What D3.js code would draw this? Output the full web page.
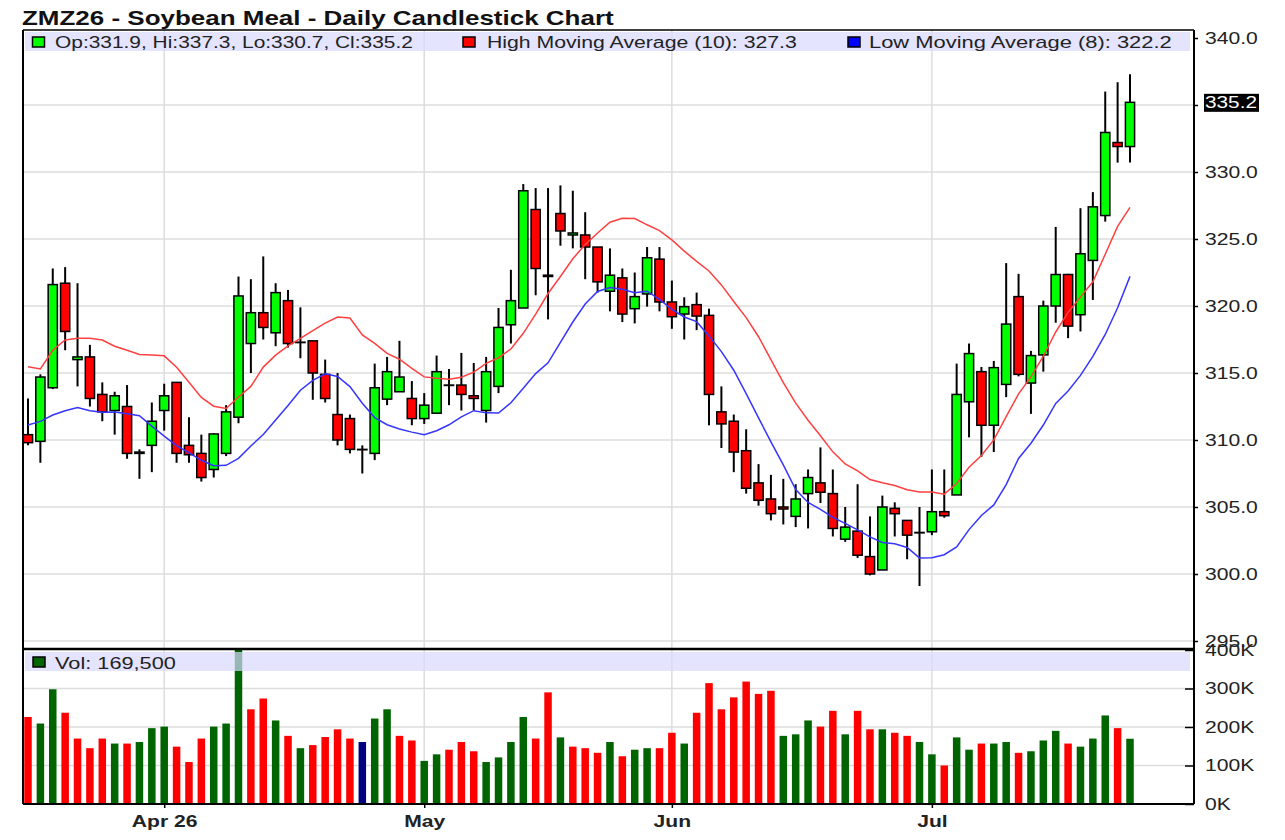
<!DOCTYPE html>
<html>
<head>
<meta charset="utf-8">
<script src="https://cdn.jsdelivr.net/npm/d3@7"></script>
<style>
  body { margin: 0; background: #fff; }
  text { font-family: "Liberation Sans", Arial, sans-serif; }
</style>
</head>
<body>
<svg id="chart" width="1285" height="840"></svg>
<script>
// Daily sessions, oldest first
const opens = [310.4, 309.9, 313.9, 321.7, 316.0, 316.2, 313.4, 312.2, 312.5, 309.0,
  309.6, 312.2, 314.3, 309.6, 309.0, 307.8, 309.0, 311.7, 317.2, 319.5,
  318.0, 320.4, 317.3, 317.4, 314.9, 311.9, 311.6, 309.3, 309.0, 313.05,
  313.6, 313.1, 311.6, 312.0, 314.1, 314.1, 313.3, 312.2, 314.0, 318.6,
  319.85, 327.2, 322.3, 326.9, 325.3, 325.3, 324.4, 321.1, 322.1, 319.8,
  320.9, 323.5, 320.3, 319.4, 320.1, 319.3, 312.1, 311.4, 309.2, 306.8,
  305.6, 305.0, 304.3, 306.0, 306.8, 306.0, 302.6, 303.2, 301.3, 300.3,
  304.9, 304.0, 303.1, 303.15, 304.65, 305.9, 312.85, 315.1, 311.1, 314.15,
  320.7, 314.25, 316.35, 320.0, 322.35, 319.35, 323.4, 326.75, 332.2, 331.9];
const highs = [313.1, 314.9, 322.8, 322.9, 321.7, 317.1, 314.3, 313.6, 314.1, 309.3,
  312.8, 314.2, 314.3, 311.7, 310.4, 310.5, 312.6, 322.2, 322.0, 323.7,
  321.7, 321.2, 319.9, 317.4, 316.0, 315.0, 311.9, 309.6, 315.7, 316.2,
  317.4, 314.4, 313.5, 316.3, 315.3, 316.5, 315.75, 316.2, 319.85, 322.7,
  329.1, 328.8, 328.8, 329.0, 328.6, 327.0, 324.4, 324.3, 322.8, 322.5,
  324.4, 324.4, 321.9, 320.65, 321.0, 319.8, 314.0, 311.9, 310.8, 308.2,
  307.4, 307.1, 306.7, 307.8, 309.45, 307.8, 305.0, 306.7, 304.3, 305.85,
  305.35, 304.0, 305.0, 307.8, 307.8, 315.7, 317.2, 315.45, 315.9, 323.2,
  322.4, 316.65, 320.4, 325.9, 322.4, 327.3, 328.5, 336.0, 336.7, 337.3];
const lows = [309.6, 308.3, 313.8, 316.7, 314.0, 312.5, 311.4, 310.4, 308.6, 307.1,
  307.6, 310.7, 308.3, 308.3, 306.9, 307.2, 308.8, 311.25, 315.0, 317.5,
  317.0, 316.9, 316.1, 313.0, 312.8, 309.6, 309.0, 307.5, 308.5, 312.6,
  313.6, 311.1, 311.2, 312.0, 312.6, 312.2, 312.2, 311.3, 313.5, 317.2,
  319.85, 320.8, 319.0, 324.5, 324.3, 322.0, 321.0, 319.6, 318.8, 318.7,
  319.95, 319.6, 318.3, 317.5, 318.2, 311.1, 309.4, 307.6, 306.0, 305.1,
  304.0, 303.7, 303.5, 303.4, 305.3, 302.8, 302.4, 301.2, 299.9, 300.3,
  302.8, 301.1, 299.1, 302.9, 304.2, 305.9, 310.2, 308.75, 309.1, 313.2,
  314.75, 311.95, 315.1, 318.75, 317.6, 318.1, 320.45, 326.3, 330.7, 330.7];
const closes = [309.8, 314.7, 321.6, 318.1, 316.2, 313.1, 312.1, 313.3, 309.0, 309.1,
  311.4, 313.3, 309.0, 308.9, 307.2, 310.45, 312.1, 320.75, 319.5, 318.4,
  321.0, 317.2, 317.3, 315.0, 313.1, 310.0, 309.3, 309.3, 313.9, 315.1,
  314.7, 311.6, 312.6, 315.1, 314.1, 313.4, 313.1, 315.1, 318.4, 320.4,
  328.6, 322.8, 322.2, 325.6, 325.45, 324.4, 321.8, 322.3, 319.4, 320.7,
  323.6, 320.3, 319.2, 319.95, 319.25, 313.4, 311.2, 309.1, 306.4, 305.5,
  304.5, 304.85, 305.6, 307.2, 306.1, 303.4, 303.5, 301.4, 300.0, 305.0,
  304.5, 302.9, 303.1, 304.65, 304.35, 313.4, 316.45, 311.1, 315.4, 318.65,
  314.9, 316.3, 320.0, 322.35, 318.5, 323.9, 327.4, 332.95, 331.9, 335.2];
const volumes = [226000, 209000, 298000, 237000, 170000, 145000, 170000, 157000, 157000, 161000,
  197000, 201000, 149000, 109000, 170000, 201000, 209000, 420000, 246000, 274000,
  217000, 177000, 145000, 153000, 174000, 194000, 170000, 161000, 222000, 246000,
  177000, 165000, 112000, 129000, 141000, 161000, 137000, 109000, 121000, 161000,
  226000, 170000, 290000, 173000, 149000, 145000, 133000, 161000, 124000, 141000,
  145000, 145000, 185000, 157000, 237000, 314000, 246000, 277000, 318000, 286000,
  294000, 177000, 181000, 217000, 201000, 242000, 181000, 242000, 194000, 194000,
  185000, 177000, 161000, 129000, 100000, 173000, 141000, 157000, 157000, 161000,
  133000, 137000, 165000, 190000, 157000, 149000, 170000, 230000, 197000, 169500];

// sessions just before the window, estimated so the averages start where the picture does
const leadHighs = [316.6, 308.8, 315.3, 320.3, 317.1, 315.7, 318.2, 317.1, 312.5];
const leadLows = [306.1, 310.0, 314.1, 312.1, 314.4, 312.4, 310.2];
const priorClose = 310.9;

const monthTicks = [11, 32, 52, 73];
const monthLabels = ["Apr 26", "May", "Jun", "Jul"];
const priceTicks = [295, 300, 305, 310, 315, 320, 325, 330, 335, 340];
const volumeTicks = [0, 100000, 200000, 300000, 400000];

const chartTitle = "ZMZ26 - Soybean Meal - Daily Candlestick Chart";
const ohlcLabel = "Op:331.9, Hi:337.3, Lo:330.7, Cl:335.2";
const highAvgLabel = "High Moving Average (10): 327.3";
const lowAvgLabel = "Low Moving Average (8): 322.2";
const volLabel = "Vol: 169,500";
const lastPrice = 335.2;

const svg = d3.select("#chart");
const left = 23, right = 1194, priceTop = 30, priceBottom = 649, volTop = 650, volBottom = 804;
const n = closes.length;
const sx = 1.32; // the source picture is stretched sideways

const x = d3.scaleLinear().domain([0, n - 1]).range([28, 1130]);
const y = d3.scaleLinear().domain([295, 340]).range([641, 38]);
const yVol = d3.scaleLinear().domain([0, 400000]).range([volBottom, volTop]);

// moving averages of highs (10) and lows (8)
const allHighs = leadHighs.concat(highs);
const allLows = leadLows.concat(lows);
const highAvg = d3.range(n).map(i => d3.mean(allHighs.slice(i, i + leadHighs.length + 1)));
const lowAvg = d3.range(n).map(i => d3.mean(allLows.slice(i, i + leadLows.length + 1)));

const defs = svg.append("defs");
defs.append("clipPath").attr("id", "clipPrice")
  .append("rect").attr("x", left).attr("y", priceTop).attr("width", right - left).attr("height", priceBottom - priceTop);
defs.append("clipPath").attr("id", "clipVol")
  .append("rect").attr("x", left).attr("y", volTop).attr("width", right - left).attr("height", volBottom - volTop);

// stretched text helper; fitWidth squeezes/stretches to a measured width
function label(parent, str, px, py, size, opts = {}) {
  const g = parent.append("g");
  const t = g.append("text")
    .attr("font-size", size)
    .attr("font-weight", opts.weight || "normal")
    .attr("fill", opts.fill || "#222")
    .attr("text-anchor", opts.anchor || "start")
    .text(str);
  let k = sx;
  if (opts.fitWidth) k = opts.fitWidth / t.node().getComputedTextLength();
  g.attr("transform", `translate(${px},${py}) scale(${k},1)`);
  return g;
}

// title
label(svg, chartTitle, 22, 25, 20, { weight: "bold", fill: "#111", fitWidth: 592 });

// grid
const grid = svg.append("g").attr("stroke", "#dddddd").attr("stroke-width", 1.5);
grid.selectAll("line.hp").data(priceTicks.slice(0, -1)).join("line")
  .attr("x1", left).attr("x2", right).attr("y1", d => y(d)).attr("y2", d => y(d));
grid.selectAll("line.hv").data(volumeTicks.slice(1, -1)).join("line")
  .attr("x1", left).attr("x2", right).attr("y1", d => yVol(d)).attr("y2", d => yVol(d));
grid.selectAll("line.v").data(monthTicks).join("line")
  .attr("x1", d => x(d)).attr("x2", d => x(d)).attr("y1", priceTop).attr("y2", volBottom);

// volume bars
const volColor = (i) => {
  const prev = i === 0 ? priorClose : closes[i - 1];
  return closes[i] > prev ? "#006400" : closes[i] < prev ? "#ff0000" : "#000080";
};
svg.append("g").attr("clip-path", "url(#clipVol)")
  .selectAll("rect").data(volumes).join("rect")
  .attr("x", (d, i) => x(i) - 3.75)
  .attr("width", 7.5)
  .attr("y", d => yVol(d))
  .attr("height", d => volBottom - yVol(d))
  .attr("fill", (d, i) => volColor(i));

// candles
const plot = svg.append("g").attr("clip-path", "url(#clipPrice)");
const candle = plot.selectAll("g.candle").data(d3.range(n)).join("g").attr("class", "candle");
candle.append("line")
  .attr("x1", i => x(i)).attr("x2", i => x(i))
  .attr("y1", i => y(highs[i])).attr("y2", i => y(lows[i]))
  .attr("stroke", "#000").attr("stroke-width", 2);
candle.append("rect")
  .attr("x", i => x(i) - 4.6)
  .attr("width", 9.2)
  .attr("y", i => y(Math.max(opens[i], closes[i])))
  .attr("height", i => Math.max(Math.abs(y(opens[i]) - y(closes[i])), 0.4))
  .attr("fill", i => closes[i] >= opens[i] ? "#00ff00" : "#ff0000")
  .attr("stroke", "#000").attr("stroke-width", 1.5);

// moving average lines
const line = d3.line().x((d, i) => x(i)).y(d => y(d));
plot.append("path").datum(highAvg).attr("d", line)
  .attr("fill", "none").attr("stroke", "#ff4040").attr("stroke-width", 1.5);
plot.append("path").datum(lowAvg).attr("d", line)
  .attr("fill", "none").attr("stroke", "#3535ff").attr("stroke-width", 1.5);

// legend bands (semi-transparent)
svg.append("rect").attr("x", left + 2).attr("y", 32).attr("width", 1165).attr("height", 19)
  .attr("fill", "#d8d8ff").attr("opacity", 0.7);
svg.append("rect").attr("x", left + 2).attr("y", 652).attr("width", 1165).attr("height", 19)
  .attr("fill", "#d8d8ff").attr("opacity", 0.7);

function swatch(px, py, color) {
  svg.append("rect").attr("x", px).attr("y", py).attr("width", 12).attr("height", 10)
    .attr("fill", color).attr("stroke", "#000").attr("stroke-width", 1.5);
}
swatch(32.5, 37, "#00ff00");
label(svg, ohlcLabel, 55, 47.5, 16, { fitWidth: 358 });
swatch(463, 37, "#ff0000");
label(svg, highAvgLabel, 487, 47.5, 16, { fitWidth: 310 });
swatch(848, 37, "#0000ff");
label(svg, lowAvgLabel, 869, 47.5, 16, { fitWidth: 303 });
swatch(33, 657, "#006400");
label(svg, volLabel, 55, 668.5, 16, { fitWidth: 121 });

// frame
const frame = svg.append("g").attr("stroke", "#000");
frame.append("line").attr("x1", left).attr("x2", left).attr("y1", priceTop).attr("y2", volBottom).attr("stroke-width", 2);
frame.append("line").attr("x1", left).attr("x2", right).attr("y1", priceTop).attr("y2", priceTop).attr("stroke-width", 1.5);
frame.append("line").attr("x1", left).attr("x2", right).attr("y1", priceBottom).attr("y2", priceBottom).attr("stroke-width", 2.5);
frame.append("line").attr("x1", left).attr("x2", right).attr("y1", volBottom).attr("y2", volBottom).attr("stroke-width", 2);
frame.append("line").attr("x1", right).attr("x2", right).attr("y1", priceTop).attr("y2", volBottom).attr("stroke-width", 2);

// axes
function styleAxis(g, size, weight) {
  g.select(".domain").remove();
  g.selectAll(".tick line").attr("stroke", "#000").attr("stroke-width", 1.5);
  g.selectAll(".tick text")
    .attr("font-family", "Liberation Sans, Arial, sans-serif")
    .attr("font-size", size).attr("font-weight", weight).attr("fill", "#222")
    .attr("transform", `scale(${sx},1)`);
}
svg.append("g").attr("transform", `translate(${right},0)`)
  .call(d3.axisRight(y).tickValues(priceTicks).tickFormat(d3.format(".1f")).tickSize(4).tickPadding(4.3))
  .call(g => styleAxis(g, 16, "normal"));
svg.append("g").attr("transform", `translate(${right},0)`)
  .call(d3.axisRight(yVol).tickValues(volumeTicks).tickFormat(d => d / 1000 + "K").tickSizeInner(-9).tickSizeOuter(0).tickPadding(8.3))
  .call(g => styleAxis(g, 16, "normal"));
svg.append("g").attr("transform", `translate(0,${volBottom})`)
  .call(d3.axisBottom(x).tickValues(monthTicks).tickFormat((d, i) => monthLabels[i]).tickSize(4).tickPadding(8))
  .call(g => styleAxis(g, 16, "bold"));

// last price marker
svg.append("rect").attr("x", 1204).attr("y", y(lastPrice) - 8.5).attr("width", 55).attr("height", 18).attr("fill", "#000");
label(svg, d3.format(".1f")(lastPrice), 1205, y(lastPrice) + 6, 16, { fill: "#fff", fitWidth: 52 });
</script>
</body>
</html>
